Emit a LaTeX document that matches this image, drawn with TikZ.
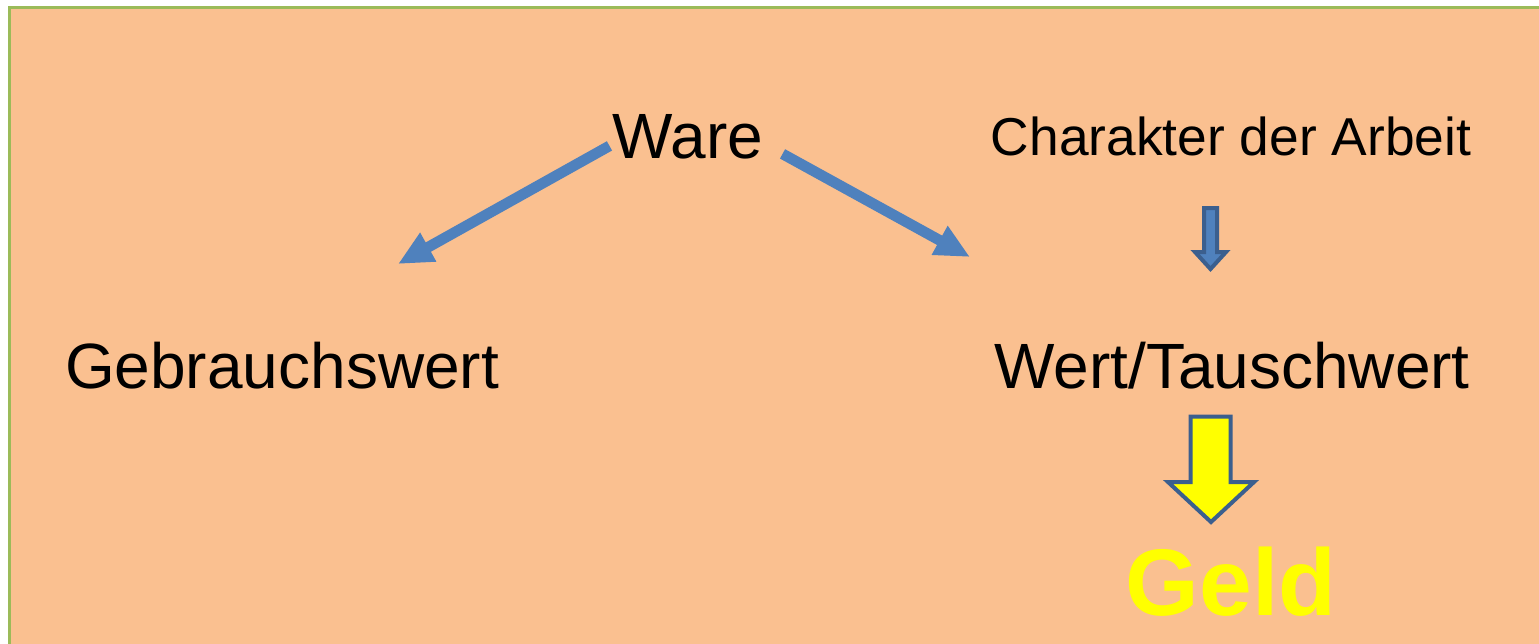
\documentclass[tikz,border=0pt]{standalone}
\usepackage{fontspec}
\setmainfont{Liberation Sans}
\usetikzlibrary{arrows.meta}
\definecolor{peach}{HTML}{FAC090}
\definecolor{framegreen}{HTML}{9BBB59}
\definecolor{arrowblue}{HTML}{4F81BD}
\definecolor{edgeblue}{HTML}{3B5F8E}
\definecolor{geldyellow}{HTML}{FFFF00}
\begin{document}
\begin{tikzpicture}[x=0.75pt,y=-0.75pt]
    % --- styles ---
    \tikzset{word/.style={inner sep=0pt,anchor=base,font=\fontsize{48}{52}\selectfont},
      smallword/.style={word,font=\fontsize{40}{44}\selectfont},
      bigarrow/.style={arrowblue,line width=8pt,-{Triangle[length=26pt,width=23pt]}},
      blockarrow/.style={draw=edgeblue,line width=3pt,line join=miter}}

    \useasboundingbox (0,0) rectangle (1539,643);

    % background panel (runs past right and bottom edge)
    \draw[framegreen,line width=2.5pt,fill=peach] (9.5,7.5) rectangle (1560,670);

    % words
    \node[word] (ware) at (688,158) {Ware};
    \node[smallword] (charakter) at (1231,155) {Charakter der Arbeit};
    \node[word] (gebrauch) at (282,388) {Gebrauchswert};
    \node[word] (wert) at (1232,388) {Wert/Tauschwert};
    \node[word,font=\fontsize{71}{76}\selectfont\bfseries,text=geldyellow] (geld) at (1231,615) {Geld};

    % split arrows from Ware
    \coordinate (gebrauchtip) at (398,264);
    \coordinate (werttip) at (970,257);
    \draw[bigarrow] ([shift={(-3,-13)}]ware.south west) -- (gebrauchtip);
    \draw[bigarrow] ([shift={(19,-5)}]ware.south east) -- (werttip);

    % small block arrow: Charakter -> Wert
    \draw[blockarrow,fill=arrowblue] (1204,208) -- (1217,208) -- (1217,252) -- (1226,252)
      -- (1210.5,269) -- (1195,252) -- (1204,252) -- cycle;

    % yellow block arrow: Wert -> Geld
    \draw[blockarrow,fill=geldyellow] (1190.5,416.5) -- (1230.5,416.5) -- (1230.5,482) -- (1254,482)
      -- (1211,522) -- (1168,482) -- (1190.5,482) -- cycle;
\end{tikzpicture}
\end{document}
